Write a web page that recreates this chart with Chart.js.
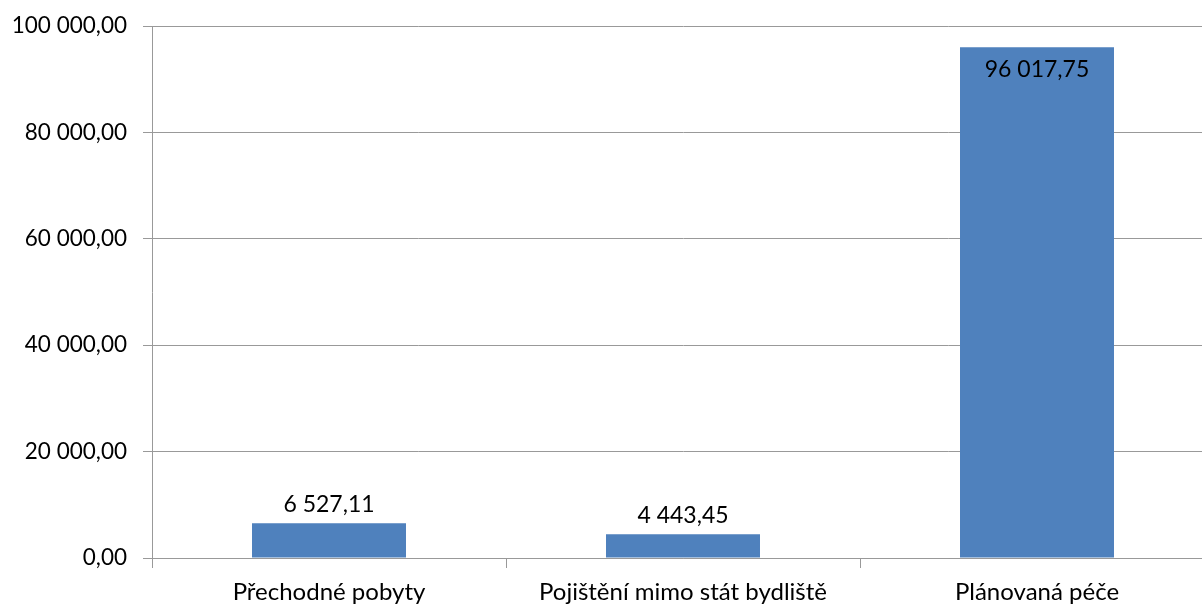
<!DOCTYPE html>
<html>
<head>
<meta charset="utf-8">
<script src="https://cdn.jsdelivr.net/npm/chart.js@4/dist/chart.umd.min.js"></script>
<style>
    html, body { margin: 0; padding: 0; background: #fff; overflow: hidden; }
    #wrap { width: 1222px; height: 606px; }
</style>
</head>
<body>
<div id="wrap"><canvas id="costChart"></canvas></div>
<script>
const categories = ['Přechodné pobyty', 'Pojištění mimo stát bydliště', 'Plánovaná péče'];
const amounts = [6527.11, 4443.45, 96017.75];
const yTicks = [0, 20000, 40000, 60000, 80000, 100000];

const gridColor = '#999999';
const textColor = '#000000';
const fontFamily = 'Lato, "Open Sans", sans-serif';

const formatNumber = (value) => {
    let [whole, dec] = value.toFixed(2).split('.');
    whole = whole.replace(/\B(?=(\d{3})+(?!\d))/g, ' ');
    return `${whole},${dec}`;
};

// simple value labels: above the bar, or inside when there is no room
const valueLabels = {
    id: 'valueLabels',
    afterDatasetsDraw(chart) {
        const ctx = chart.ctx;
        const meta = chart.getDatasetMeta(0);
        const area = chart.chartArea;

        ctx.save();
        ctx.font = `23px ${fontFamily}`;
        ctx.fillStyle = textColor;
        ctx.textAlign = 'center';
        ctx.textBaseline = 'middle';

        meta.data.forEach(function (bar, i) {
            let y = bar.y - 19;
            if (y - 12 < area.top) {
                y = bar.y + 22;
            }
            ctx.fillText(formatNumber(amounts[i]), bar.x, y);
        });
        ctx.restore();
    },
};

const loadChart = (ctx) => {
    new Chart(ctx, {
        type: 'bar',
        data: {
            labels: categories,
            datasets: [
                {
                    data: amounts,
                    backgroundColor: '#4f81bd',
                    barPercentage: 0.87,
                    categoryPercentage: 0.5,
                },
            ],
        },
        options: {
            responsive: true,
            maintainAspectRatio: false,
            animation: false,
            layout: {
                padding: {top: 26, right: 8, left: 0, bottom: 0},
            },
            plugins: {
                legend: {display: false},
                tooltip: {enabled: false},
            },
            scales: {
                x: {
                    offset: true,
                    grid: {
                        offset: true,
                        drawOnChartArea: false,
                        drawTicks: true,
                        tickLength: 10,
                        color: gridColor,
                    },
                    border: {color: gridColor},
                    ticks: {
                        color: textColor,
                        padding: 10,
                        maxRotation: 0,
                        font: {family: fontFamily, size: 24},
                    },
                    afterFit: (scale) => { scale.height = 48; },
                },
                y: {
                    min: 0,
                    max: 100000,
                    afterBuildTicks: (scale) => {
                        scale.ticks = yTicks.map(v => ({value: v}));
                    },
                    grid: {
                        color: gridColor,
                        tickLength: 9,
                    },
                    border: {color: gridColor},
                    ticks: {
                        color: textColor,
                        padding: 16,
                        font: {family: fontFamily, size: 22.5, lineHeight: 0.8},
                        callback: (value) => formatNumber(value),
                    },
                    afterFit: (scale) => { scale.width = 152; },
                },
            },
        },
        plugins: [valueLabels],
    });
};

(function () {
    const ctx = document.getElementById('costChart').getContext('2d');
    loadChart(ctx);
})();
</script>
</body>
</html>
